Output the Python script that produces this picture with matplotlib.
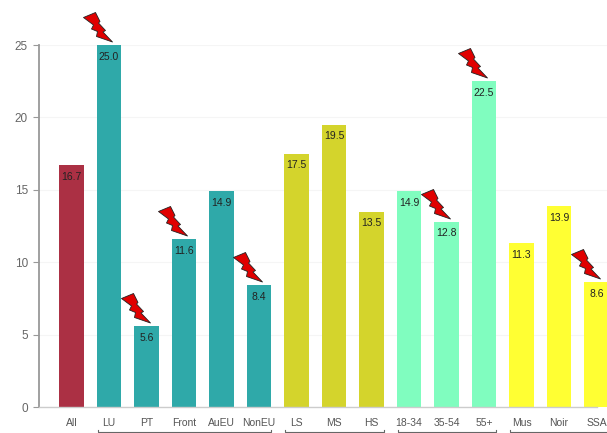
import matplotlib
matplotlib.use("Agg")
import matplotlib.pyplot as plt
from matplotlib.path import Path

plt.rcParams['font.family'] = ['Liberation Sans', 'DejaVu Sans']

categories = ["All", "LU", "PT", "Front", "AuEU", "NonEU", "LS", "MS", "HS",
              "18-34", "35-54", "55+", "Mus", "Noir", "SSA"]
values = [16.7, 25.0, 5.6, 11.6, 14.9, 8.4, 17.5, 19.5, 13.5, 14.9, 12.8, 22.5, 11.3, 13.9, 8.6]
colors = ["#ab3044"] + ["#2fa9a9"] * 5 + ["#d4d42c"] * 3 + ["#80fdbf"] * 3 + ["#ffff33"] * 3
flagged = ["LU", "PT", "Front", "NonEU", "35-54", "55+", "SSA"]
groups = [("LU", "NonEU"), ("LS", "HS"), ("18-34", "55+"), ("Mus", "SSA")]
yticks = [0, 5, 10, 15, 20, 25]

W, H = 607, 433
fig = plt.figure(figsize=(W / 100, H / 100), dpi=100)
ax = fig.add_axes([39 / W, (H - 407) / H, (W - 39) / W, 362 / H])

x = list(range(len(categories)))
ax.bar(x, values, width=0.66, color=colors, linewidth=0, zorder=2)
ax.set_xlim(-0.867, 14.28)
ax.set_ylim(0, 25)

# rejilla muy suave
ax.grid(axis="y", color="#f5f5f5", linewidth=0.8, zorder=0)
ax.set_axisbelow(True)

for s in ["top", "right"]:
    ax.spines[s].set_visible(False)
ax.spines["left"].set_color("#999999")
ax.spines["left"].set_linewidth(1.3)
ax.spines["bottom"].set_color("#cccccc")
ax.spines["bottom"].set_linewidth(1.0)
ax.spines["bottom"].set_bounds(-0.867, 14.0)

ax.set_yticks(yticks)
ax.set_xticks(x)
ax.set_xticklabels(categories)
ax.tick_params(axis="y", length=4, width=0.8, color="#999999", labelcolor="#666666", labelsize=8.5, pad=4)
ax.tick_params(axis="x", length=0, labelcolor="#555555", labelsize=7.5, pad=8)

# valores dentro de las barras
for i, v in zip(x, values):
    ax.annotate(f"{v:.1f}", (i, v), xytext=(0, -8.5), textcoords="offset points",
                ha="center", va="center", fontsize=7.5, color="#222222", zorder=4)

# rayo: la forma va en pixeles relativos a la punta superior de la barra
bolt = [(-26, 28), (-14, 33), (-9.5, 24), (-11, 22.5), (-4, 15), (-6.5, 13.5),
        (3, 3.5), (-13, 9), (-12, 14), (-18, 16.5), (-16, 20.5), (-26, 28)]
bolt_path = Path(bolt, closed=True)
rescale = max(abs(c) for p in bolt for c in p)
for name in flagged:
    i = categories.index(name)
    ax.plot(i, values[i], marker=bolt_path, markersize=2 * rescale * 0.72, markerfacecolor="#e00000",
            markeredgecolor="#222222", markeredgewidth=0.6, linestyle="none", clip_on=False, zorder=5)

# llaves de los grupos, cortadas por el borde inferior
trans = ax.get_xaxis_transform()
for first, last in groups:
    a = categories.index(first) - 0.3
    b = categories.index(last) + 0.33
    ax.plot([a, a, b, b], [-0.0635, -0.0700, -0.0700, -0.0635], color="#666666", linewidth=0.8,
            transform=trans, clip_on=False)

fig.savefig("out.png", dpi=100)
